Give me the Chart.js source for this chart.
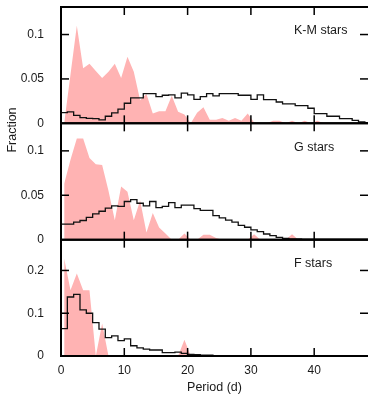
<!DOCTYPE html>
<html>
<head>
<meta charset="utf-8">
<script src="https://cdn.jsdelivr.net/npm/chart.js@4.4.1/dist/chart.umd.min.js"></script>
<style>
  html, body { margin: 0; padding: 0; background: #fff; }
  #wrap { position: relative; width: 368px; height: 395px; }
</style>
</head>
<body>
<div id="wrap"><canvas id="periodChart" width="368" height="395"></canvas></div>
<script>
// period bins are 1 day wide, starting at 0 d
const binWidth = 1;
const xTicks = [0, 10, 20, 30, 40];

const panelNames = ['K-M stars', 'G stars', 'F stars'];
const smallTicks = [0, 0.05, 0.1];
const bigTicks = [0, 0.1, 0.2];

// black step histograms (one value per 1-day bin, 0..48 d)
const kmLine = [0.012, 0.013, 0.009, 0.0065, 0.0055, 0.0053, 0.004, 0.008, 0.0117, 0.016,
    0.0226, 0.0286, 0.0286, 0.0335, 0.0335, 0.030, 0.0316, 0.032, 0.0286, 0.034,
    0.032, 0.027, 0.030, 0.0335, 0.031, 0.0335, 0.0335, 0.0335, 0.0316, 0.0316,
    0.027, 0.032, 0.0267, 0.0267, 0.024, 0.022, 0.022, 0.020, 0.020, 0.017,
    0.011, 0.011, 0.008, 0.008, 0.0053, 0.0053, 0.0034, 0.0015, 0.0008];
const gLine = [0.0174, 0.0174, 0.0197, 0.0216, 0.025, 0.029, 0.032, 0.0356, 0.038, 0.0375,
    0.043, 0.045, 0.041, 0.038, 0.043, 0.036, 0.0375, 0.0417, 0.036, 0.039,
    0.039, 0.035, 0.033, 0.033, 0.027, 0.0246, 0.022, 0.0197, 0.016, 0.014,
    0.011, 0.009, 0.0064, 0.0045, 0.0026, 0.0015, 0.001, 0.001, 0.0005, 0.0005,
    0.0005, 0.0005, 0.0005, 0.0005, 0.0005, 0.0005, 0.0005, 0.0005, 0.0005];
const fLine = [0.064, 0.138, 0.144, 0.108, 0.100, 0.078, 0.063, 0.043, 0.047, 0.036,
    0.040, 0.024, 0.019, 0.016, 0.014, 0.014, 0.008, 0.008, 0.009, 0.006,
    0.004, 0.003, 0.002, 0.002, 0.001, 0, 0, 0, 0, 0,
    0, 0, 0, 0, 0, 0, 0, 0, 0, 0,
    0, 0, 0, 0, 0, 0, 0, 0, 0];

// pink shaded distributions (value at each bin centre, 0.5..47.5 d)
const kmShade = [0, 0.055, 0.110, 0.062, 0.067, 0.059, 0.051, 0.058, 0.067, 0.051,
    0.075, 0.058, 0.026, 0.033, 0.011, 0.0135, 0.0135, 0.031, 0.013, 0.010,
    0, 0.012, 0.018, 0.004, 0.004, 0.006, 0.003, 0.006, 0.003, 0.011,
    0.001, 0, 0, 0.003, 0.003, 0, 0.003, 0, 0.003, 0,
    0.003, 0, 0, 0, 0, 0, 0, 0];
const gShade = [0.063, 0.090, 0.114, 0.114, 0.092, 0.085, 0.084, 0.055, 0.022, 0.060,
    0.054, 0.022, 0.044, 0.008, 0.030, 0.0136, 0.007, 0, 0, 0.007,
    0, 0, 0.0055, 0.0055, 0.002, 0, 0, 0, 0, 0,
    0.006, 0, 0, 0, 0, 0, 0.006, 0, 0, 0,
    0, 0, 0, 0, 0, 0, 0, 0];
const fShade = [0.228, 0.154, 0.193, 0.154, 0.154, 0, 0.076, 0, 0, 0,
    0, 0, 0, 0, 0, 0, 0, 0, 0, 0.038,
    0, 0, 0, 0, 0, 0, 0, 0, 0, 0,
    0, 0, 0, 0, 0, 0, 0, 0, 0, 0,
    0, 0, 0, 0, 0, 0, 0, 0];

const pink = 'rgb(255, 179, 179)';
const ink = '#1a1a1a';

Chart.defaults.font.family = "'Liberation Sans', Arial, sans-serif";
Chart.defaults.font.size = 12;
Chart.defaults.color = ink;

function stepPoints(vals) {
    const pts = vals.map((v, i) => ({ x: i * binWidth, y: v }));
    pts.push({ x: vals.length * binWidth, y: vals[vals.length - 1] });
    return pts;
}

function shadePoints(vals) {
    return vals.map((v, i) => ({ x: (i + 0.5) * binWidth, y: v }));
}

function panelSets(axis, line, shade) {
    return [{
        data: stepPoints(line),
        yAxisID: axis,
        stepped: true,
        borderColor: '#111',
        borderWidth: 1.3,
        pointRadius: 0,
        fill: false,
        order: 0
    }, {
        data: shadePoints(shade),
        yAxisID: axis,
        borderColor: 'rgba(0,0,0,0)',
        borderWidth: 0,
        backgroundColor: pink,
        pointRadius: 0,
        fill: 'origin',
        order: 1
    }];
}

function noPad(s) {
    s.paddingTop = 0;
    s.paddingBottom = 0;
    s.paddingLeft = 0;
    s.paddingRight = 0;
}

function yAxis(max, tickVals) {
    return {
        type: 'linear',
        position: 'left',
        stack: 'panels',
        stackWeight: 1,
        min: 0,
        max: max,
        grid: { display: false },
        border: { display: false },
        ticks: {
            padding: 9,
            callback: v => String(+v.toFixed(3))
        },
        afterBuildTicks: s => { s.ticks = tickVals.map(v => ({ value: v })); },
        afterFit: s => { s.width = 61; noPad(s); }
    };
}

// frame, inward ticks, panel names and y title
const framePlugin = {
    id: 'frame',
    afterDraw(chart) {
        const ctx = chart.ctx;
        const area = chart.chartArea;
        const xs = chart.scales.x;
        const ids = ['yKM', 'yG', 'yF'];

        function seg(x1, y1, x2, y2) {
            ctx.beginPath();
            ctx.moveTo(x1, y1);
            ctx.lineTo(x2, y2);
            ctx.stroke();
        }

        ctx.save();
        ctx.strokeStyle = '#000';

        ids.forEach((id, k) => {
            const s = chart.scales[id];
            ctx.lineWidth = 1.5;
            s.ticks.forEach(t => {
                if (t.value === 0) return;
                const y = s.getPixelForValue(t.value);
                seg(area.left, y, area.left + 8, y);
                seg(area.right - 8, y, area.right, y);
            });
            xs.ticks.forEach(t => {
                if (t.value === 0) return;
                const x = xs.getPixelForValue(t.value);
                seg(x, s.top, x, s.top + 8);
                seg(x, s.bottom - 8, x, s.bottom);
            });
            ctx.lineWidth = 2;
            seg(area.left, s.top, area.right, s.top);
            seg(area.left, s.bottom, area.right, s.bottom);

            ctx.fillStyle = ink;
            ctx.font = "12.5px 'Liberation Sans', Arial, sans-serif";
            ctx.textAlign = 'left';
            ctx.textBaseline = 'middle';
            ctx.fillText(panelNames[k], area.left + 233, s.top + 24);
        });

        ctx.lineWidth = 2;
        seg(area.left, area.top - 1, area.left, area.bottom + 1);

        ctx.translate(13, 130);
        ctx.rotate(-Math.PI / 2);
        ctx.textAlign = 'center';
        ctx.fillText('Fraction', 0, 0);
        ctx.restore();
    }
};

new Chart(document.getElementById('periodChart'), {
    type: 'line',
    data: {
        datasets: [].concat(
            panelSets('yKM', kmLine, kmShade),
            panelSets('yG', gLine, gShade),
            panelSets('yF', fLine, fShade)
        )
    },
    options: {
        responsive: false,
        animation: false,
        layout: { padding: { top: 7, left: 0, right: 0, bottom: 0 } },
        plugins: {
            legend: { display: false },
            tooltip: { enabled: false }
        },
        scales: {
            x: {
                type: 'linear',
                min: 0,
                max: 48.5,
                grid: { display: false },
                border: { display: false },
                ticks: { padding: -1 },
                afterBuildTicks: s => { s.ticks = xTicks.map(v => ({ value: v })); },
                afterFit: s => { s.height = 39; noPad(s); },
                title: {
                    display: true,
                    text: 'Period (d)',
                    font: { size: 12.5 },
                    padding: { top: 0, bottom: 0 }
                }
            },
            yF: yAxis(0.272, bigTicks),
            yG: yAxis(0.131, smallTicks),
            yKM: yAxis(0.131, smallTicks)
        }
    },
    plugins: [framePlugin]
});
</script>
</body>
</html>
